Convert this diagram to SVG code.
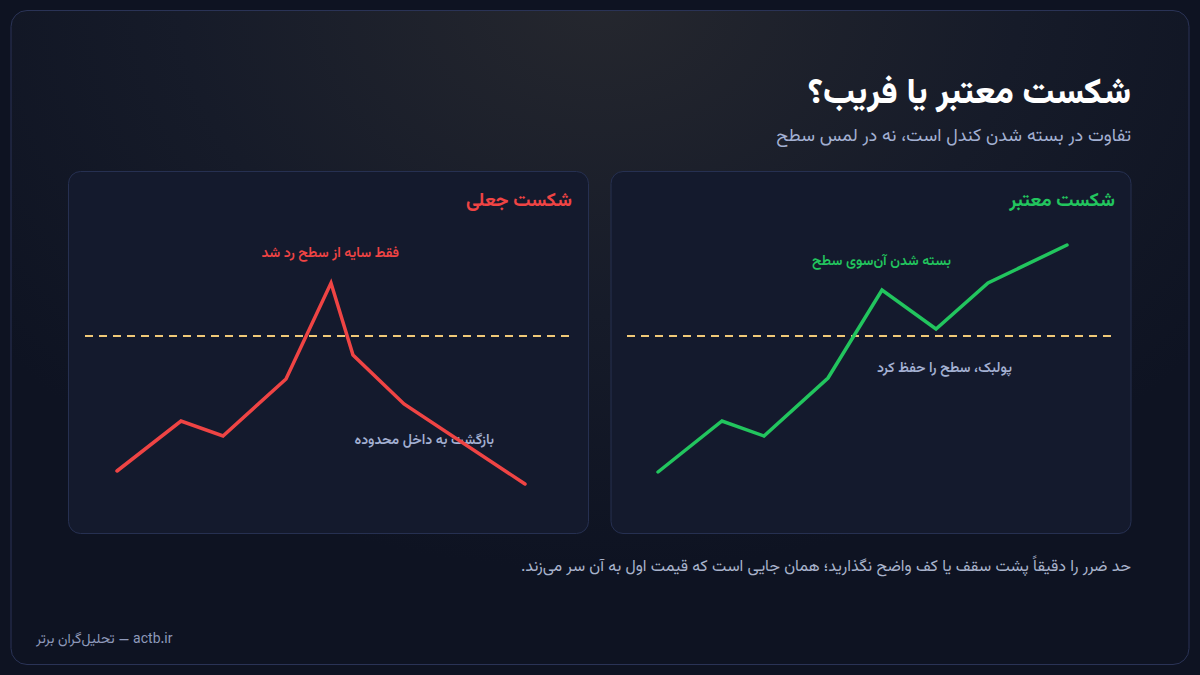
<svg xmlns="http://www.w3.org/2000/svg" width="1200" height="675" viewBox="0 0 1200 675">
<defs>
<radialGradient id="bg" cx="600" cy="0" r="760" gradientUnits="userSpaceOnUse" gradientTransform="matrix(1 0 0 0.75 0 0)">
<stop offset="0" stop-color="#25272e"/>
<stop offset="0.55" stop-color="#161b29"/>
<stop offset="1" stop-color="#0e1322"/>
</radialGradient>
<style>
.fa{font-family:"Vazirmatn","Noto Sans Arabic","DejaVu Sans","Noto Sans",sans-serif;direction:rtl;text-anchor:start}
.panel{fill:#141a2d;stroke:#263051;stroke-width:1}
.lvl{fill:none;stroke:#f0c978;stroke-width:2;stroke-dasharray:8 6}
.price{fill:none;stroke-width:3.5;stroke-linejoin:miter;stroke-linecap:round}
.ptitle{font-size:19px;font-weight:700}
.ann{font-size:14px;font-weight:600}
.muted{fill:#a3b0d2}
</style>
</defs>
<rect width="1200" height="675" fill="#0e1322"/>
<rect x="11" y="10.5" width="1178" height="654" rx="16" fill="url(#bg)" stroke="#2a3356" stroke-width="1"/>

<g id="header">
<text class="fa" x="1131" y="103" font-size="35" font-weight="800" fill="#ffffff">شکست معتبر یا فریب؟</text>
<text class="fa muted" x="1131" y="141" font-size="18">تفاوت در بسته شدن کندل است، نه در لمس سطح</text>
</g>

<g id="panel-valid">
<rect class="panel" x="611" y="171.5" width="520" height="362" rx="12"/>
<text class="fa ptitle" x="1115" y="206" fill="#22c55e">شکست معتبر</text>
<text class="fa ann" x="951" y="265" fill="#22c55e">بسته شدن آن‌سوی سطح</text>
<text class="fa ann muted" x="1012" y="372">پولبک، سطح را حفظ کرد</text>
</g>

<g id="panel-fake">
<rect class="panel" x="68.5" y="171.5" width="520" height="362" rx="12"/>
<text class="fa ptitle" x="572" y="206" fill="#ef4444">شکست جعلی</text>
<text class="fa ann" x="399" y="257" fill="#ef4444">فقط سایه از سطح رد شد</text>
<text class="fa ann muted" x="494" y="444">بازگشت به داخل محدوده</text>
</g>

<g id="connectors">
<line class="lvl" x1="627" y1="336" x2="1116" y2="336"/>
<line class="lvl" x1="85" y1="336" x2="573" y2="336"/>
<polyline class="price" stroke="#22c55e" points="658,472 722,421 764,436 828,378 882,290 936,329 988,283 1067,245"/>
<polyline class="price" stroke="#ef4444" points="117,471 181,421 223,436 286,379 331,283 353,355 404,404 525,484"/>
</g>

<g id="note">
<text class="fa" x="1131" y="571" font-size="16" fill="#a9b3cc">حد ضرر را دقیقاً پشت سقف یا کف واضح نگذارید؛ همان جایی است که قیمت اول به آن سر می‌زند.</text>
</g>

<g id="footer">
<text font-family="Vazirmatn, 'Noto Sans Arabic', 'DejaVu Sans', sans-serif" x="36" y="643" font-size="14" fill="#8f9abb">تحلیل‌گران برتر — actb.ir</text>
</g>
</svg>
